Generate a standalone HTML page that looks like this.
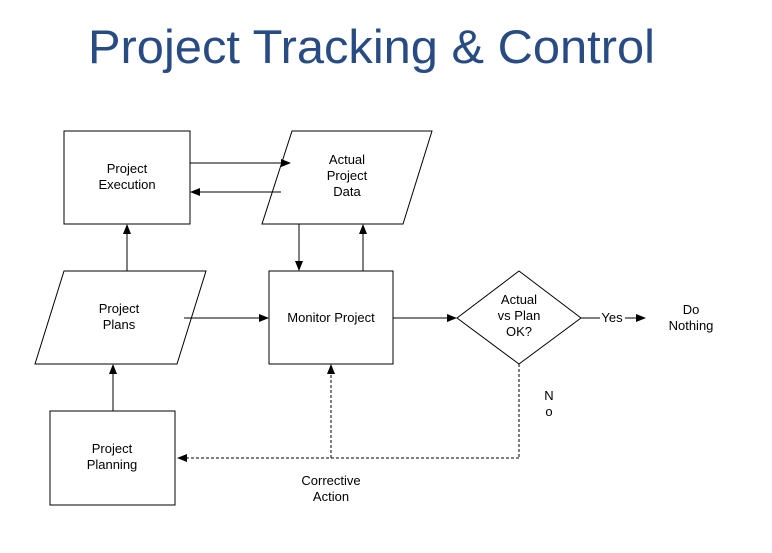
<!DOCTYPE html>
<html><head><style>
body{margin:0;background:#fff;}
svg{display:block;font-family:"Liberation Sans",Arial,sans-serif;}
</style></head><body>
<svg width="772" height="553" viewBox="0 0 772 553">
<defs>
<marker id="a" markerWidth="10" markerHeight="8" refX="9" refY="4" orient="auto" markerUnits="userSpaceOnUse">
<path d="M0,0 L10,4 L0,8 z" fill="#000"/></marker>
</defs>
<text x="88" y="63" font-size="47" fill="#274b82" textLength="567" lengthAdjust="spacingAndGlyphs">Project Tracking &amp; Control</text>
<g fill="#fff" stroke="#000" stroke-width="1">
<rect x="64" y="131" width="126" height="93"/>
<polygon points="292,131 432,131 403,224 262,224"/>
<polygon points="64,271 206,271 177,364 35,364"/>
<rect x="269" y="271" width="124" height="93"/>
<polygon points="519,271 581,318 519,364 457,318"/>
<rect x="50" y="411" width="125" height="94"/>
</g>
<g stroke="#000" stroke-width="1" fill="none">
<line x1="190" y1="163" x2="290" y2="163" marker-end="url(#a)"/>
<line x1="281" y1="192" x2="191" y2="192" marker-end="url(#a)"/>
<line x1="299" y1="224" x2="299" y2="270" marker-end="url(#a)"/>
<line x1="363" y1="271" x2="363" y2="225" marker-end="url(#a)"/>
<line x1="127" y1="271" x2="127" y2="225" marker-end="url(#a)"/>
<line x1="113" y1="411" x2="113" y2="365" marker-end="url(#a)"/>
<line x1="184" y1="318" x2="268" y2="318" marker-end="url(#a)"/>
<line x1="393" y1="318" x2="456" y2="318" marker-end="url(#a)"/>
<line x1="581" y1="318" x2="600" y2="318"/>
<line x1="625" y1="318" x2="645" y2="318" marker-end="url(#a)"/>
</g>
<g stroke="#000" stroke-width="1" fill="none" stroke-dasharray="3,2">
<line x1="519" y1="364" x2="519" y2="458"/>
<line x1="519" y1="458" x2="178" y2="458"/>
<line x1="331" y1="458" x2="331" y2="366"/>
</g>
<path d="M177,458 L187,454 L187,462 z" fill="#000"/>
<path d="M331,364 L327,374 L335,374 z" fill="#000"/>
<g font-size="13" fill="#000" text-anchor="middle">
<text x="127" y="173">Project</text><text x="127" y="189">Execution</text>
<text x="347" y="164">Actual</text><text x="347" y="180">Project</text><text x="347" y="196">Data</text>
<text x="119" y="313">Project</text><text x="119" y="329">Plans</text>
<text x="331" y="322">Monitor Project</text>
<text x="519" y="304">Actual</text><text x="519" y="320">vs Plan</text><text x="519" y="336">OK?</text>
<text x="612" y="322">Yes</text>
<text x="691" y="314">Do</text><text x="691" y="330">Nothing</text>
<text x="549" y="400">N</text><text x="549" y="416">o</text>
<text x="112" y="453">Project</text><text x="112" y="469">Planning</text>
<text x="331" y="485">Corrective</text><text x="331" y="501">Action</text>
</g>
</svg>
</body></html>
